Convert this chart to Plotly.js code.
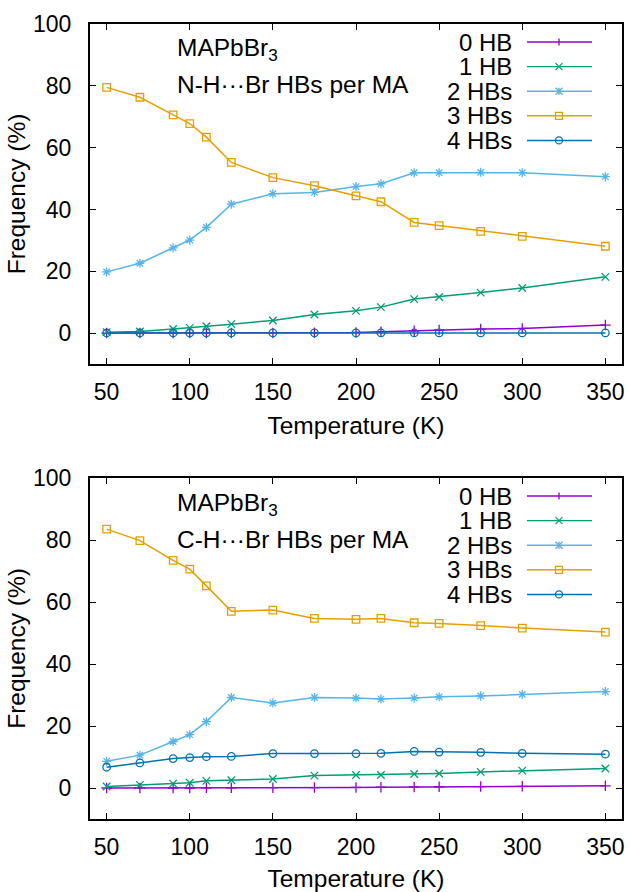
<!DOCTYPE html>
<html>
<head>
<meta charset="utf-8">
<script src="https://cdn.plot.ly/plotly-3.0.1.min.js"></script>
<style>html,body{margin:0;padding:0;background:#fff;}#chart{width:630px;height:892px;}</style>
</head>
<body>
<div id="chart"></div>
<script>
// ---- data ----
const temperatures = [50, 70, 90, 100, 110, 125, 150, 175, 200, 215, 235, 250, 275, 300, 350];
const seriesNames = ["0 HB", "1 HB", "2 HBs", "3 HBs", "4 HBs"];

// N-H...Br HBs per MA (top panel)
const nh0 = [0, 0, 0, 0, 0, 0, 0.05, 0.1, 0.2, 0.4, 0.75, 1.0, 1.3, 1.5, 2.6];
const nh1 = [0.3, 0.5, 1.3, 1.7, 2.2, 2.9, 4.1, 6.0, 7.2, 8.4, 11.0, 11.7, 13.1, 14.6, 18.2];
const nh2 = [19.8, 22.6, 27.6, 30.1, 34.2, 41.7, 45.1, 45.5, 47.4, 48.3, 51.9, 51.9, 52.0, 51.9, 50.6];
const nh3 = [79.5, 76.3, 70.6, 67.8, 63.4, 55.2, 50.3, 47.7, 44.4, 42.5, 35.8, 34.8, 32.9, 31.3, 28.1];
const nh4 = [0.05, 0.05, 0.05, 0.05, 0.05, 0.05, 0.05, 0.05, 0.05, 0.05, 0.05, 0.05, 0.05, 0.05, 0.05];

// C-H...Br HBs per MA (bottom panel)
const ch0 = [0, 0, 0, 0, 0.05, 0.05, 0.1, 0.15, 0.2, 0.25, 0.35, 0.4, 0.45, 0.55, 0.7];
const ch1 = [0.5, 1.0, 1.4, 1.7, 2.3, 2.5, 2.9, 4.0, 4.2, 4.2, 4.5, 4.7, 5.2, 5.6, 6.3];
const ch2 = [8.6, 10.6, 15.0, 17.2, 21.4, 29.2, 27.4, 29.2, 29.0, 28.7, 29.0, 29.4, 29.7, 30.2, 31.1];
const ch3 = [83.5, 79.8, 73.4, 70.6, 65.2, 57.0, 57.4, 54.7, 54.4, 54.7, 53.3, 53.1, 52.4, 51.6, 50.3];
const ch4 = [6.7, 8.1, 9.5, 9.8, 10.1, 10.2, 11.1, 11.1, 11.1, 11.2, 11.8, 11.6, 11.5, 11.2, 10.9];

const yTickVals = [0, 20, 40, 60, 80, 100];
const xTickVals = [50, 100, 150, 200, 250, 300, 350];

// ---- styles ----
const colors = ["#9400D3", "#009E73", "#56B4E9", "#E69F00", "#0072B2"];
const symbols = ["cross-thin-open", "x-thin-open", "asterisk-open", "square-open", "circle-open"];
const FONT = "Liberation Sans, Arial, Helvetica, sans-serif";
const FS = 23;     // tick font
const FK = 24;     // key font
const FT = 24.5;   // titles and in-plot labels

// pixel geometry helpers (figure 630x892, margins l=90 r=8 t=24 b=73)
const ML = 90, MR = 8, MT = 24, MB = 73, W = 630, H = 892;
const PW = W - ML - MR, PH = H - MT - MB;
const px2x = p => (p - ML) / PW;
const px2y = p => (H - MB - p) / PH;

const topSeries = [nh0, nh1, nh2, nh3, nh4];
const botSeries = [ch0, ch1, ch2, ch3, ch4];

const traces = [];
topSeries.forEach((ys, i) => traces.push({
  x: temperatures, y: ys, xaxis: "x", yaxis: "y", type: "scatter", mode: "lines+markers",
  name: seriesNames[i], showlegend: false,
  line: {color: colors[i], width: 1.5},
  marker: {symbol: symbols[i], size: 7.5, color: colors[i], line: {color: colors[i], width: 1.3}}
}));
botSeries.forEach((ys, i) => traces.push({
  x: temperatures, y: ys, xaxis: "x2", yaxis: "y2", type: "scatter", mode: "lines+markers",
  name: seriesNames[i], showlegend: false,
  line: {color: colors[i], width: 1.5},
  marker: {symbol: symbols[i], size: 7.5, color: colors[i], line: {color: colors[i], width: 1.3}}
}));

function xAxis(anchor) {
  return {
    anchor: anchor, domain: [0, 1], range: [40, 360], tickvals: xTickVals,
    ticks: "inside", ticklen: 6, tickwidth: 1, tickcolor: "#000",
    showline: true, linewidth: 2, linecolor: "#000", mirror: "ticks",
    showgrid: false, zeroline: false,
    tickfont: {family: FONT, size: FS, color: "#000"}, ticklabelstandoff: 6,
    title: {text: "Temperature (K)", font: {family: FONT, size: FT, color: "#000"}, standoff: 13}
  };
}
function yAxis(anchor, domain) {
  return {
    anchor: anchor, domain: domain, range: [-10, 100], tickvals: yTickVals,
    ticks: "inside", ticklen: 6, tickwidth: 1, tickcolor: "#000",
    showline: true, linewidth: 2, linecolor: "#000", mirror: "ticks",
    showgrid: false, zeroline: false,
    tickfont: {family: FONT, size: FS, color: "#000"}, ticklabelstandoff: 12,
    title: {text: "Frequency (%)", font: {family: FONT, size: FT, color: "#000"}, standoff: 0}
  };
}

const topBorder = [24, 478];
const shapes = [];
const annotations = [];
const subtitles = ["N-H\u00B7\u00B7\u00B7Br HBs per MA", "C-H\u00B7\u00B7\u00B7Br HBs per MA"];

topBorder.forEach((tb, p) => {
  annotations.push({xref: "paper", yref: "paper", x: px2x(175), y: px2y(tb + 26), xanchor: "left", yanchor: "middle",
    text: "MAPbBr<sub>3</sub>", showarrow: false, font: {family: FONT, size: FT, color: "#000"}});
  annotations.push({xref: "paper", yref: "paper", x: px2x(175), y: px2y(tb + 61), xanchor: "left", yanchor: "middle",
    text: subtitles[p], showarrow: false, font: {family: FONT, size: FT, color: "#000"}});
  // manual gnuplot-style key: text right-aligned, sample line to the right
  seriesNames.forEach((nm, i) => {
    const yy = tb + 18 + i * 24.6;
    annotations.push({xref: "paper", yref: "paper", x: px2x(513), y: px2y(yy), xanchor: "right", yanchor: "middle",
      height: 21, borderpad: 0, valign: "middle",
      text: nm, showarrow: false, font: {family: FONT, size: FK, color: "#000"}});
    const c = colors[i], cx = 559, r = 3.5;
    const L = (x0, y0, x1, y1) => shapes.push({type: "line", xref: "paper", yref: "paper",
      x0: px2x(x0), y0: px2y(y0), x1: px2x(x1), y1: px2y(y1), line: {color: c, width: i === 0 || i === 1 ? 1.3 : 1.5}});
    L(527, yy, 592, yy);
    if (i === 0) { L(cx, yy - r, cx, yy + r); }
    if (i === 1) { L(cx - r, yy - r, cx + r, yy + r); L(cx - r, yy + r, cx + r, yy - r); }
    if (i === 2) { L(cx, yy - r, cx, yy + r); L(cx - r, yy - r, cx + r, yy + r); L(cx - r, yy + r, cx + r, yy - r); }
    if (i === 3) shapes.push({type: "rect", xref: "paper", yref: "paper", x0: px2x(cx - r), x1: px2x(cx + r),
      y0: px2y(yy - r), y1: px2y(yy + r), line: {color: c, width: 1.3}, fillcolor: "rgba(0,0,0,0)"});
    if (i === 4) shapes.push({type: "circle", xref: "paper", yref: "paper", x0: px2x(cx - r), x1: px2x(cx + r),
      y0: px2y(yy - r), y1: px2y(yy + r), line: {color: c, width: 1.3}, fillcolor: "rgba(0,0,0,0)"});
  });
});

const layout = {
  width: W, height: H,
  margin: {l: ML, r: MR, t: MT, b: MB},
  paper_bgcolor: "#fff", plot_bgcolor: "#fff",
  font: {family: FONT, size: FS, color: "#000"},
  showlegend: false,
  xaxis: xAxis("y"),
  yaxis: yAxis("x", [px2y(364), 1]),
  xaxis2: xAxis("y2"),
  yaxis2: yAxis("x2", [0, px2y(478)]),
  shapes: shapes,
  annotations: annotations
};

Plotly.newPlot("chart", traces, layout, {displayModeBar: false, staticPlot: true});
</script>
</body>
</html>
